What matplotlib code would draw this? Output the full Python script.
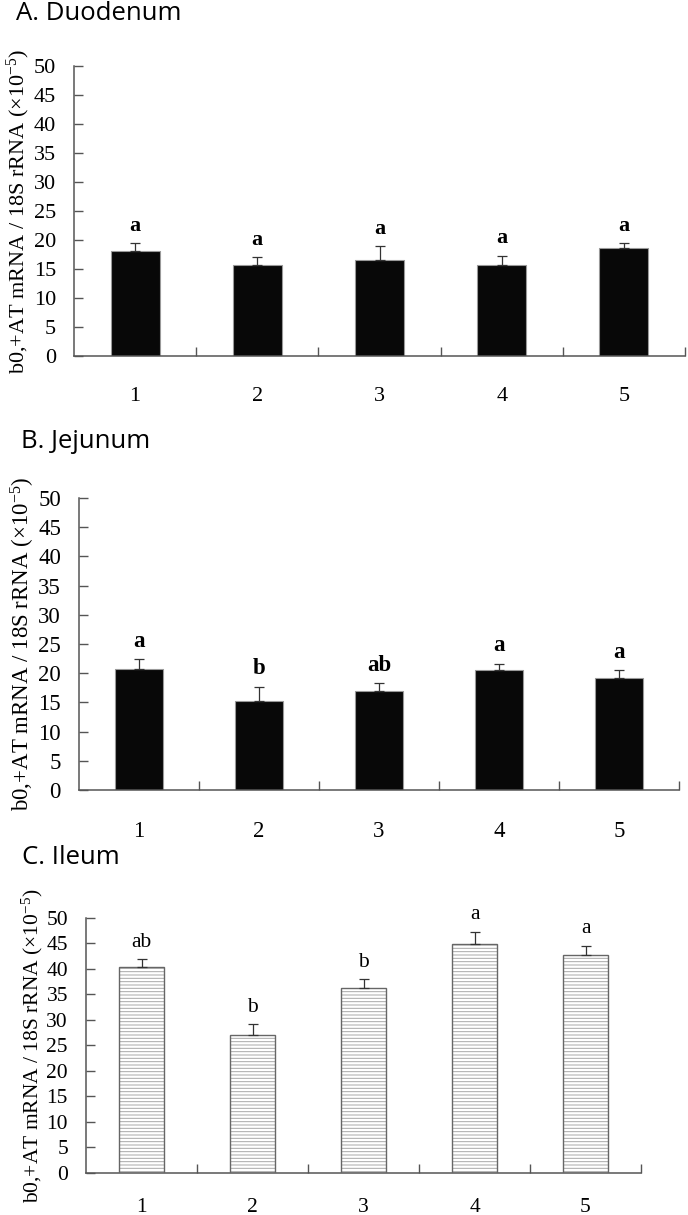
import matplotlib
matplotlib.use("Agg")
import matplotlib.pyplot as plt
import numpy as np

groups = ['1', '2', '3', '4', '5']

duo_mean = [18.1, 15.7, 16.5, 15.7, 18.6]
duo_err = [1.3, 1.3, 2.4, 1.6, 0.8]
duo_sig = ['a', 'a', 'a', 'a', 'a']

jej_mean = [20.7, 15.2, 17.0, 20.6, 19.2]
jej_err = [1.7, 2.5, 1.3, 1.0, 1.3]
jej_sig = ['a', 'b', 'ab', 'a', 'a']

ile_mean = [40.4, 27.1, 36.2, 44.8, 42.8]
ile_err = [1.5, 2.1, 1.8, 2.5, 1.7]
ile_sig = ['ab', 'b', 'b', 'a', 'a']

serif = 'Liberation Serif'
ylab = 'b0,+AT mRNA / 18S rRNA ($\\times$10$^{-5}$)'
plt.rcParams['mathtext.fontset'] = 'custom'
plt.rcParams['mathtext.rm'] = serif
plt.rcParams['mathtext.it'] = serif
plt.rcParams['hatch.linewidth'] = 0.7

fig = plt.figure(figsize=(6.88, 12.15), dpi=100)

def panel(rect, title, title_x, title_y, mean, err, sig, fs, bold, hatched, width, xpad):
    ax = fig.add_axes(rect)
    x = np.arange(1, len(groups) + 1)
    if hatched:
        ax.bar(x, mean, width=width, color='white', edgecolor='#a8a8a8',
               hatch='-----', linewidth=0, zorder=2)
        ax.bar(x, mean, width=width, fill=False, edgecolor='#666666',
               linewidth=1.0, zorder=3)
    else:
        ax.bar(x, mean, width=width, color='#080808', edgecolor='#999999',
               linewidth=0.8, zorder=2)
    ax.errorbar(x, mean, yerr=[np.zeros(len(err)), err], fmt='none',
                ecolor='#333333', elinewidth=0.9, capsize=3.3, capthick=0.9, zorder=4)
    for xi, m, e, s in zip(x, mean, err, sig):
        ax.annotate(s, (xi, m + e), xytext=(0, 9), textcoords='offset points',
                    ha='center', va='baseline', family=serif, fontsize=fs,
                    fontweight='bold' if bold else 'normal')
    ax.set_xlim(0.5, len(groups) + 0.5)
    ax.set_ylim(0, 50)
    ax.set_yticks(np.arange(0, 51, 5))
    ax.set_xticks(x)
    ax.set_xticklabels(groups, family=serif, fontsize=fs)
    ax.set_xticks(np.arange(1.5, len(groups) + 1, 1), minor=True)
    for lab in ax.get_yticklabels():
        lab.set_family(serif)
        lab.set_fontsize(fs)
    ax.tick_params(axis='x', which='major', length=0, pad=xpad)
    ax.tick_params(axis='x', which='minor', direction='in', length=6.5,
                   width=1, color='#555555')
    ax.tick_params(axis='y', direction='in', length=6.5, width=1,
                   color='#555555', pad=13)
    for side in ['top', 'right']:
        ax.spines[side].set_visible(False)
    for side in ['left', 'bottom']:
        ax.spines[side].set_color('#555555')
        ax.spines[side].set_linewidth(1.1)
    ax.set_ylabel(ylab, family=serif, fontsize=fs, labelpad=1)
    fig.text(title_x / 688, title_y, title, family='Open Sans',
             fontsize=18.5, va='center', ha='left')
    return ax

panel([0.1076, 0.707, 0.888, 0.2387], 'A. Duodenum', 16, 1 - 13 / 1215,
      duo_mean, duo_err, duo_sig, 16, True, False, 0.4, 22)
panel([0.1148, 0.3498, 0.872, 0.2403], 'B. Jejunum', 21, 1 - 441 / 1215,
      jej_mean, jej_err, jej_sig, 16.5, True, False, 0.4, 22)
panel([0.125, 0.0346, 0.8067, 0.2099], 'C. Ileum', 22, 1 - 857 / 1215,
      ile_mean, ile_err, ile_sig, 15.5, False, True, 0.41, 18)

plt.savefig('out.png', dpi=100)
